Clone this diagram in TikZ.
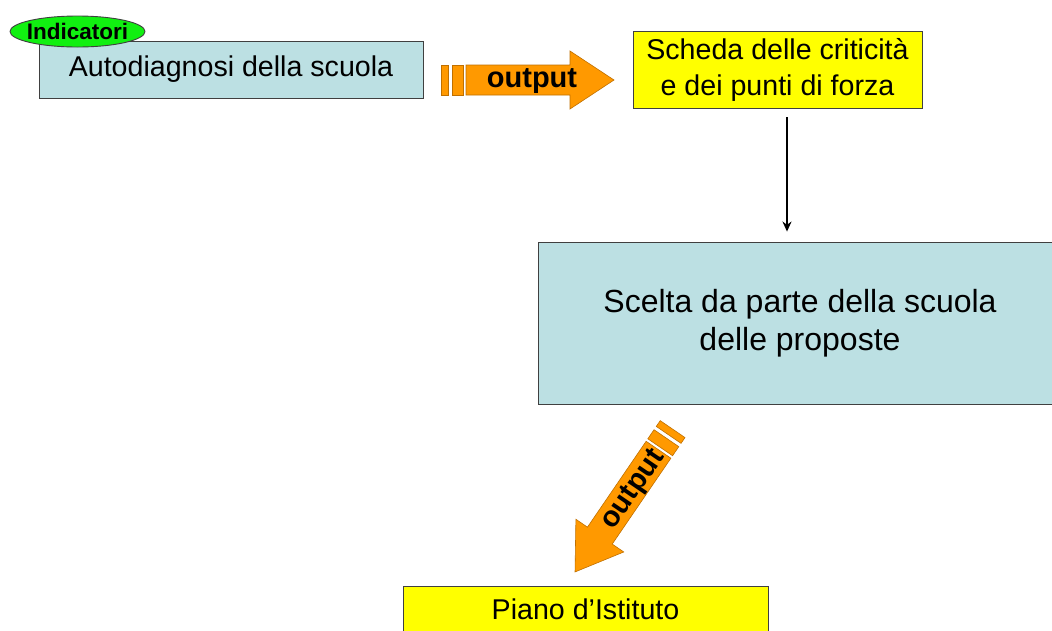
\documentclass[tikz,border=0pt]{standalone}
\usepackage{fontspec}
\setmainfont{Liberation Sans}
\usetikzlibrary{shapes.geometric,arrows.meta}
\definecolor{boxblue}{HTML}{BCE0E3}
\definecolor{boxyellow}{HTML}{FFFF00}
\definecolor{ellgreen}{HTML}{11F011}
\definecolor{arrorange}{HTML}{FF9900}
\definecolor{edgegray}{HTML}{404040}
\definecolor{arredge}{HTML}{C07000}
\tikzset{
  x=1pt,y=1pt,
  bluebox/.style={draw=edgegray,line width=0.9pt,fill=boxblue,inner sep=0pt,align=center},
  yellowbox/.style={draw=edgegray,line width=0.9pt,fill=boxyellow,inner sep=0pt,align=center},
  arrfill/.style={draw=arredge,line width=0.6pt,fill=arrorange},
  midfont/.style={font=\fontsize{28.6}{36}\selectfont},
  bigfont/.style={font=\fontsize{32}{38}\selectfont},
  outarrow/.pic={
    \draw[arrfill] (0,-15) rectangle (7,15);
    \draw[arrfill] (11,-15) rectangle (22,15);
    \draw[arrfill] (25,-15) -- (129,-15) -- (129,-29) -- (173,0) -- (129,29) -- (129,15) -- (25,15) -- cycle;
  }
}
\begin{document}
\begin{tikzpicture}
\useasboundingbox (0,0) rectangle (1052,-630);
\clip (0,0) rectangle (1052,-630);
\fill[white] (0,0) rectangle (1052,-630);

% boxes
\node[bluebox,midfont,minimum width=384pt,minimum height=57pt] (auto) at (231,-69.5) {Autodiagnosi della scuola};
\node[draw=edgegray,line width=0.9pt,fill=ellgreen,ellipse,inner sep=0pt,minimum width=135pt,minimum height=31pt] (ind) at (77.5,-31.5) {};
\node[font=\bfseries\fontsize{22.5}{22.5}\selectfont,inner sep=0pt] (indtxt) at (ind.center) {Indicatori};
\node[yellowbox,midfont,minimum width=289pt,minimum height=77pt] (scheda) at (777.5,-69.5) {Scheda delle criticità\\ e dei punti di forza};
\node[bluebox,bigfont,minimum width=524pt,minimum height=162pt] (scelta) at (800,-323) {Scelta da parte della scuola\\delle proposte};
\node[yellowbox,midfont,minimum width=365pt,minimum height=70pt] (piano) at (585.5,-621) {};
\node[midfont,inner sep=0pt] (pianotxt) at (585.5,-609) {Piano d’Istituto};

% vertical connector
\coordinate (v1) at ([xshift=9.5pt,yshift=-9pt]scheda.south);
\coordinate (v2) at ([xshift=-13pt,yshift=10pt]scelta.north);
\draw[line width=1.5pt,-{Stealth[length=10pt,width=9pt]}] (v1) -- (v1 |- v2);

% block arrows
\pic at (441,-80) {outarrow};
\node[font=\bfseries\fontsize{29}{29}\selectfont,inner sep=0pt] (out1) at (532,-81) {output};

\pic[rotate=235.66] at (672.6,-429.1) {outarrow};
\node[font=\bfseries\fontsize{29}{29}\selectfont,inner sep=0pt,rotate=55.66] (out2) at (634,-490) {output};
\end{tikzpicture}
\end{document}
